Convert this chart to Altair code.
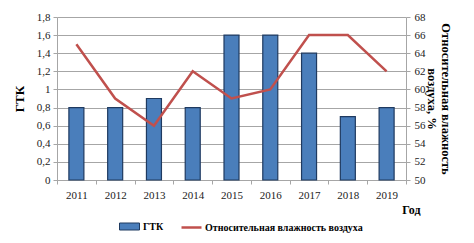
import altair as alt
import pandas as pd

years = ["2011", "2012", "2013", "2014", "2015", "2016", "2017", "2018", "2019"]
gtk = [0.8, 0.8, 0.9, 0.8, 1.6, 1.6, 1.4, 0.7, 0.8]
humidity = [65, 59, 56, 62, 59, 60, 66, 66, 62]
gtk_ticks = [0, 0.2, 0.4, 0.6, 0.8, 1.0, 1.2, 1.4, 1.6, 1.8]
hum_ticks = [50, 52, 54, 56, 58, 60, 62, 64, 66, 68]
gtk_label = "ГТК"
hum_label = "Относительная влажность воздуха"

df = pd.DataFrame({"year": years, "gtk": gtk, "hum": humidity,
                   "s1": gtk_label, "s2": hum_label})

FONT = "Liberation Serif"
GRID = "#a6a6a6"

x = alt.X("year:O", title="Год",
          scale=alt.Scale(paddingInner=0, paddingOuter=0),
          axis=alt.Axis(labelAngle=0, tickBand="extent", grid=False,
                        domainColor=GRID, tickColor=GRID, tickSize=4,
                        labelPadding=5, labelFont=FONT, labelFontSize=11,
                        labelColor="#222222",
                        titleFont=FONT, titleFontSize=12, titleFontWeight="bold",
                        titleAlign="right", titleX=363, titleY=33,
                        titleBaseline="alphabetic"))

bars = alt.Chart(df).mark_bar(size=15, stroke="#1f3a60", strokeWidth=1.2).encode(
    x=x,
    y=alt.Y("gtk:Q", scale=alt.Scale(domain=[0, 1.8]),
            axis=alt.Axis(values=gtk_ticks, title="ГТК", grid=True, gridColor=GRID,
                          domainColor=GRID, tickColor=GRID, tickSize=4,
                          labelExpr="replace(format(datum.value, '~g'), '.', ',')",
                          labelFont=FONT, labelFontSize=11, labelColor="#222222",
                          labelPadding=3,
                          titleFont=FONT, titleFontSize=13, titleFontWeight="bold",
                          titlePadding=10)),
    color=alt.Color("s1:N", scale=alt.Scale(domain=[gtk_label], range=["#4a7ebb"]),
                    legend=alt.Legend(title=None, orient="none", legendX=62, legendY=199,
                                      symbolType="M-1,-0.35H1V0.35H-1Z", symbolSize=400,
                                      symbolStrokeColor="#1f3a60", symbolStrokeWidth=1,
                                      labelOffset=3,
                                      labelFont=FONT, labelFontSize=10,
                                      labelFontWeight="bold", padding=0)),
)

line = alt.Chart(df).mark_line(strokeWidth=2.5).encode(
    x=x,
    y=alt.Y("hum:Q", scale=alt.Scale(domain=[50, 68]),
            axis=alt.Axis(orient="right", values=hum_ticks,
                          title=["Относительная влажность", "воздуха, %"],
                          titleAngle=90, grid=False,
                          domainColor=GRID, tickColor=GRID, tickSize=4,
                          labelFont=FONT, labelFontSize=11, labelColor="#222222",
                          labelPadding=4,
                          titleFont=FONT, titleFontSize=12.5, titleFontWeight="bold",
                          titlePadding=-1)),
    color=alt.Color("s2:N", scale=alt.Scale(domain=[hum_label], range=["#c0504d"]),
                    legend=alt.Legend(title=None, orient="none", legendX=123, legendY=199,
                                      symbolType="stroke", symbolSize=400,
                                      symbolStrokeWidth=2.5, labelOffset=2,
                                      labelFont=FONT, labelFontSize=10,
                                      labelFontWeight="bold", padding=0)),
)

chart = alt.layer(bars, line).resolve_scale(y="independent", color="independent").properties(
    width=349, height=163,
    autosize=alt.AutoSizeParams(type="none"),
    padding={"left": 49, "top": 9, "right": 60, "bottom": 55},
    background="white",
).configure_view(stroke=None)

chart.save("out.html", embed_options={"renderer": "svg", "actions": False})
